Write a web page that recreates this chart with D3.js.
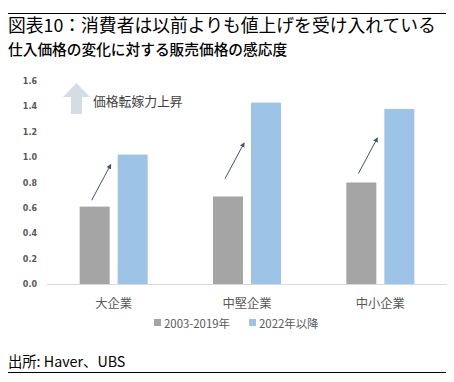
<!DOCTYPE html>
<html><head><meta charset="utf-8">
<script src="https://cdn.jsdelivr.net/npm/d3@7"></script>
<style>body{margin:0;background:#fff}svg{display:block}</style>
</head><body>
<svg id="c" width="454" height="382"></svg>
<script>
const categories = ["大企業", "中堅企業", "中小企業"];
const seriesNames = ["2003-2019年", "2022年以降"];
const before = [0.61, 0.69, 0.80];
const after = [1.02, 1.43, 1.38];
const yTicks = [0.0, 0.2, 0.4, 0.6, 0.8, 1.0, 1.2, 1.4, 1.6];
const arrowFrom = [0.66, 0.83, 0.87];
const arrowTo = [0.94, 1.11, 1.15];
const titleText = "図表10：消費者は以前よりも値上げを受け入れている";
const subtitleText = "仕入価格の変化に対する販売価格の感応度";
const noteText = "価格転嫁力上昇";
const sourceText = "出所: Haver、UBS";

const colors = ["#a5a5a5", "#9dc3e6"];
const FONT = "'Noto Sans CJK JP', 'Noto Sans', sans-serif";
const svg = d3.select("#c");

const x0 = d3.scaleBand().domain(categories).range([47, 447]);
const y = d3.scaleLinear().domain([0, 1.6]).range([284, 81]);
const barW = 30, gap = 8;
const xBar = (i, s) => x0(categories[i]) + x0.bandwidth() / 2 + (s === 0 ? -gap / 2 - barW : gap / 2);

// top rule and title
svg.append("line").attr("x1", 8).attr("x2", 446).attr("y1", 13.5).attr("y2", 13.5)
  .attr("stroke", "#000").attr("stroke-width", 1);
svg.append("text").attr("x", 8).attr("y", 32).attr("font-family", FONT).attr("font-size", 17.8)
  .attr("fill", "#000").text(titleText);
svg.append("text").attr("x", 8).attr("y", 55).attr("font-family", FONT).attr("font-size", 14.7)
  .attr("font-weight", 500).attr("fill", "#000").text(subtitleText);

// y axis labels
const yAxis = d3.axisLeft(y).tickValues(yTicks).tickFormat(d3.format(".1f")).tickSize(0).tickPadding(0);
const ga = svg.append("g").attr("transform", "translate(37,0)").call(yAxis);
ga.select(".domain").remove();
ga.selectAll("text").attr("font-family", "'DejaVu Sans', sans-serif").attr("font-size", 8)
  .attr("font-weight", "bold").attr("fill", "#595959");

// bars
const data = [];
categories.forEach((c, i) => {
  data.push({i, s: 0, v: before[i]});
  data.push({i, s: 1, v: after[i]});
});
svg.append("g").selectAll("rect").data(data).join("rect")
  .attr("x", d => xBar(d.i, d.s)).attr("width", barW)
  .attr("y", d => y(d.v)).attr("height", d => y(0) - y(d.v))
  .attr("fill", d => colors[d.s]);

// baseline
svg.append("line").attr("x1", 47).attr("x2", 447).attr("y1", y(0) + 0.5).attr("y2", y(0) + 0.5)
  .attr("stroke", "#d9d9d9").attr("stroke-width", 1);

// category labels
svg.append("g").selectAll("text").data(categories).join("text")
  .attr("x", d => x0(d) + x0.bandwidth() / 2).attr("y", 308)
  .attr("text-anchor", "middle").attr("font-family", FONT).attr("font-size", 12.3)
  .attr("fill", "#595959").text(d => d);

// legend
const legX = [154, 249];
seriesNames.forEach((n, s) => {
  svg.append("rect").attr("x", legX[s]).attr("y", 319).attr("width", 7).attr("height", 7).attr("fill", colors[s]);
  svg.append("text").attr("x", legX[s] + 10).attr("y", 327.5).attr("font-family", FONT).attr("font-size", 11.4)
    .attr("fill", "#595959").text(n);
});

// arrow marker
const defs = svg.append("defs");
defs.append("marker").attr("id", "ah").attr("viewBox", "0 0 10 10").attr("refX", 8).attr("refY", 5)
  .attr("markerWidth", 5).attr("markerHeight", 5).attr("orient", "auto")
  .append("path").attr("d", "M0,0L10,5L0,10z").attr("fill", "#44546a");

categories.forEach((c, i) => {
  const xs = xBar(i, 0) + barW / 2 - 3;
  svg.append("line").attr("x1", xs).attr("y1", y(arrowFrom[i]))
    .attr("x2", xs + 19).attr("y2", y(arrowTo[i]))
    .attr("stroke", "#44546a").attr("stroke-width", 1).attr("marker-end", "url(#ah)");
});

// big arrow legend note
svg.append("path")
  .attr("d", "M76.5,83 L90,97 L82,97 L82,114 L71,114 L71,97 L63,97 Z")
  .attr("fill", "#d6dce5");
svg.append("text").attr("x", 93).attr("y", 106).attr("font-family", FONT).attr("font-size", 12.8)
  .attr("fill", "#404040").text(noteText);

// source and bottom rule
svg.append("text").attr("x", 8).attr("y", 367).attr("font-family", FONT).attr("font-size", 14.3)
  .attr("fill", "#000").text(sourceText);
svg.append("line").attr("x1", 8).attr("x2", 446).attr("y1", 372.5).attr("y2", 372.5)
  .attr("stroke", "#000").attr("stroke-width", 1);
</script>
</body></html>
